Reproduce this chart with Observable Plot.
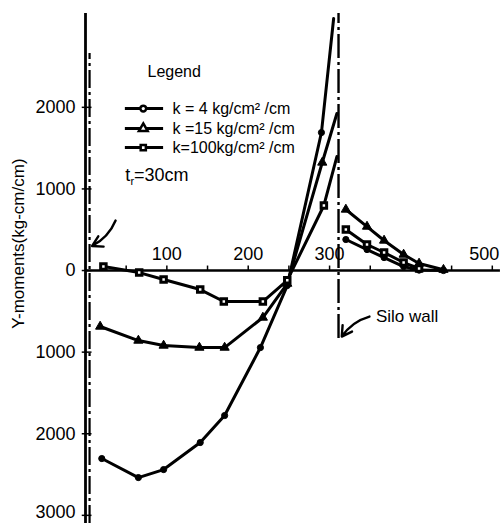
<!DOCTYPE html>
<html>
<head>
<meta charset="utf-8">
<script src="https://cdn.jsdelivr.net/npm/d3@7"></script>
<script src="https://cdn.jsdelivr.net/npm/@observablehq/plot@0.6"></script>
<style>
  html, body { margin: 0; padding: 0; background: #fff; }
  #chart svg { display: block; }
</style>
</head>
<body>
<div id="chart"></div>
<script>
// ---- data (radius in cm, Y-moment in kg-cm/cm) ----
const seriesNames = ["k = 4 kg/cm² /cm", "k =15 kg/cm² /cm", "k=100kg/cm² /cm"];
// inside silo (left of wall)
const k4InX   = [20, 65, 96, 141, 171, 215, 248, 290];
const k4InY   = [-2304, -2537, -2439, -2108, -1777, -944, -184, 1691];
const k15InX  = [18, 65, 96, 140, 171, 218, 248, 291];
const k15InY  = [-686, -858, -919, -944, -944, -576, -160, 1324];
const k100InX = [22, 66, 96, 141, 170, 218, 248, 293];
const k100InY = [50, -25, -110, -233, -380, -380, -120, 797];
// line ends at the wall (no marker)
const wallEndX = [305, 309, 309];
const wallEndY = [3088, 1924, 1397];
// outside the wall
const k4OutX   = [320, 346, 367, 391, 410, 440];
const k4OutY   = [380, 257, 159, 49, 5, 0];
const k15OutX  = [320, 346, 367, 391, 410, 440];
const k15OutY  = [748, 539, 368, 196, 86, 10];
const k100OutX = [320, 346, 367, 391, 410];
const k100OutY = [503, 319, 221, 98, 25];
// axes
const yTickValues = [2000, 1000, 0, -1000, -2000, -3000];
const xTickLabels = [100, 200, 300, 500];
const xTickMarks = [50, 100, 150, 200, 250, 300, 350, 400, 450, 500];
const wallX = 311;

const symbols = ["circle", "triangle", "square"];
const inX = [k4InX, k15InX, k100InX], inY = [k4InY, k15InY, k100InY];
const outX = [k4OutX, k15OutX, k100OutX], outY = [k4OutY, k15OutY, k100OutY];

const inner = [], outer = [], innerLine = [];
for (let s = 0; s < 3; s++) {
  inX[s].forEach((x, i) => inner.push({s, x, y: inY[s][i]}));
  inX[s].forEach((x, i) => innerLine.push({s, x, y: inY[s][i]}));
  innerLine.push({s, x: wallEndX[s], y: wallEndY[s]});
  outX[s].forEach((x, i) => outer.push({s, x, y: outY[s][i]}));
}
const allDots = inner.concat(outer);

// legend rows
const legendRows = seriesNames.map((t, i) => ({i, t, y: [1985, 1740, 1507][i]}));

const markFill = ["black", "black", "white"];
const tickFont = {fontSize: 18, letterSpacing: "-1px", fill: "black"};

const marks = [
  // y-axis solid line and centerline
  Plot.ruleX([0], {y1: -3100, y2: 3150, stroke: "black", strokeWidth: 2.8}),
  Plot.ruleX([5], {y1: -3100, y2: 2660, stroke: "black", strokeWidth: 2.2, strokeDasharray: "18,4,3,4"}),
  // silo wall
  Plot.ruleX([wallX], {y1: -833, y2: 3150, stroke: "black", strokeWidth: 2.4, strokeDasharray: "24,4,3,4"}),
  // x-axis line
  Plot.ruleY([0], {x1: 0, x2: 510, stroke: "black", strokeWidth: 2.5}),
  Plot.ruleX(xTickMarks, {y1: 0, y2: 55, stroke: "black", strokeWidth: 1.5}),
  Plot.text(xTickLabels.filter(d => d < 500), {x: d => d, y: 0, text: d => String(d), dy: -16, ...tickFont}),
  Plot.text(xTickLabels.filter(d => d >= 500), {x: d => d, y: 0, text: d => String(d), dy: -16, dx: -8, ...tickFont}),
  // y ticks and labels
  Plot.ruleY(yTickValues, {x1: -4, x2: 8, stroke: "black", strokeWidth: 1.5}),
  Plot.text(yTickValues.filter(d => d > -3000), {x: 0, y: d => d, text: d => String(Math.abs(d)), textAnchor: "end", dx: -10, ...tickFont}),
  Plot.text(yTickValues.filter(d => d <= -3000), {x: 0, y: d => d, text: d => String(Math.abs(d)), textAnchor: "end", dx: -10, dy: -3, ...tickFont}),
  // y label
  Plot.text(["Y-moments(kg-cm/cm)"], {x: -82, y: 330, rotate: -90, fontSize: 17, letterSpacing: "0.6px", fill: "black"}),
  // series lines
  Plot.line(innerLine, {x: "x", y: "y", z: "s", stroke: "black", strokeWidth: 3}),
  Plot.line(outer, {x: "x", y: "y", z: "s", stroke: "black", strokeWidth: 3}),
  // markers
  Plot.dot(allDots, {x: "x", y: "y", symbol: d => symbols[d.s], r: d => d.s === 1 ? 5.5 : 4.5,
    fill: d => markFill[d.s], stroke: "black", strokeWidth: d => d.s === 2 ? 3 : 1}),
  // legend
  Plot.text(["Legend"], {x: 109, y: 2439, fontSize: 16, letterSpacing: "1.3px", fill: "black"}),
  Plot.ruleY(legendRows, {y: "y", x1: 49, x2: 96, stroke: "black", strokeWidth: 3}),
  Plot.dot(legendRows, {x: 71, y: "y", symbol: d => symbols[d.i], r: d => d.i === 1 ? 5 : 4,
    fill: "white", stroke: "black", strokeWidth: 2.5}),
  Plot.text(legendRows, {x: 107, y: "y", text: "t", textAnchor: "start", fontSize: 16, letterSpacing: "1px", fill: "black"}),
  Plot.text(["t_r=30cm"], {x: 49, y: 1164, textAnchor: "start", fontSize: 18, letterSpacing: "-0.5px", fill: "black", className: "trlabel"}),
  // annotations
  Plot.arrow([{x1: 37, y1: 613, x2: 8, y2: 300}], {x1: "x1", y1: "y1", x2: "x2", y2: "y2", bend: 20, headLength: 9, stroke: "black", strokeWidth: 2.4}),
  Plot.arrow([{x1: 349, y1: -564, x2: 315, y2: -809}], {x1: "x1", y1: "y1", x2: "x2", y2: "y2", bend: -20, headLength: 9, stroke: "black", strokeWidth: 2.4}),
  Plot.text(["Silo wall"], {x: 357, y: -564, textAnchor: "start", fontSize: 17, fill: "black", letterSpacing: "2px"})
];

const chart = Plot.plot({
  width: 504,
  height: 523,
  marginLeft: 85,
  marginRight: 0,
  marginTop: 0,
  marginBottom: 0,
  x: {domain: [0, 515], axis: null},
  y: {domain: [-3100, 3309], axis: null},
  style: {fontFamily: "Liberation Sans, Arial, sans-serif", background: "white", overflow: "visible"},
  marks
});
document.getElementById("chart").append(chart);

// subscript r in t_r label
d3.select(chart).selectAll(".trlabel text").each(function() {
  const t = d3.select(this);
  t.text(null);
  t.append("tspan").text("t");
  t.append("tspan").attr("dy", 4).attr("font-size", 11).text("r");
  t.append("tspan").attr("dy", -4).text("=30cm");
});
</script>
</body>
</html>
